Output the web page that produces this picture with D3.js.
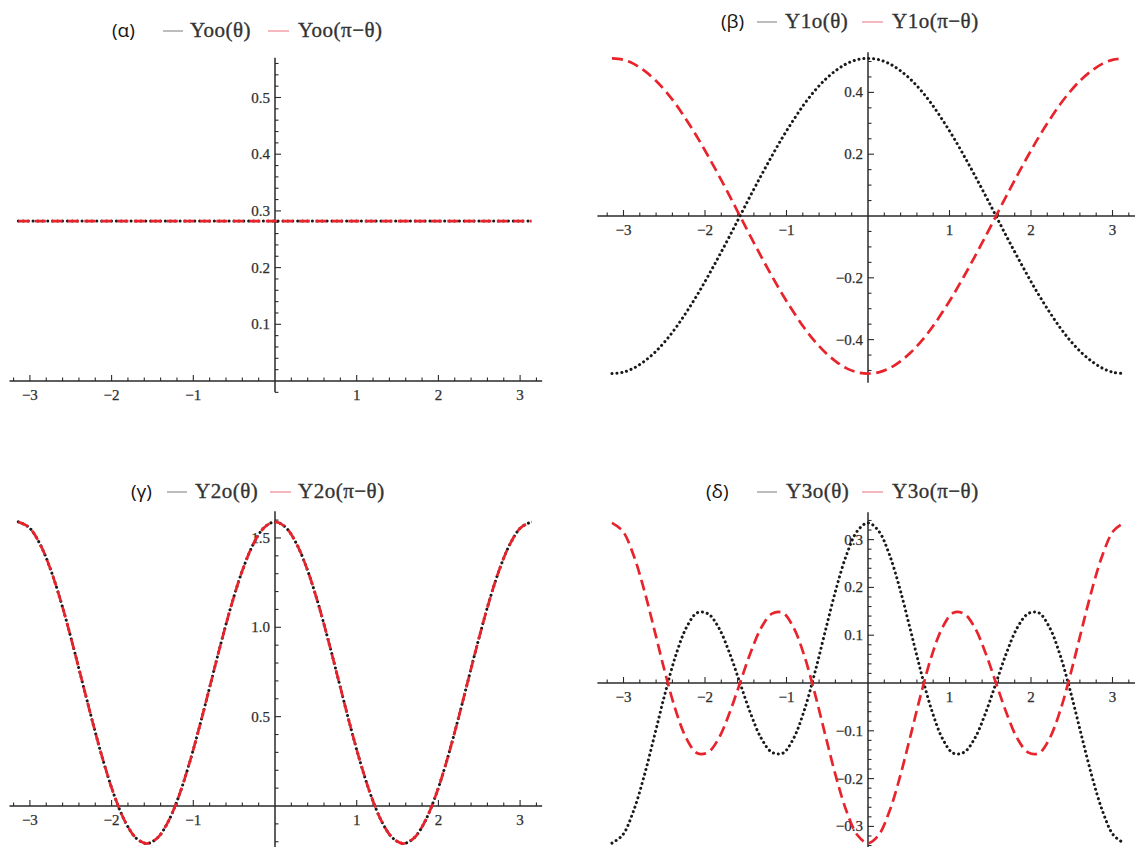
<!DOCTYPE html>
<html><head><meta charset="utf-8">
<script src="https://cdn.jsdelivr.net/npm/d3@7/dist/d3.min.js"></script>
<style>
html,body{margin:0;padding:0;background:#fff;}
svg{display:block;}
</style></head>
<body>
<svg id="chart" width="1135" height="847"></svg>
<script>
// ---- data (θ sampled every π/24 from -π to π) ----
const theta = [-3.1416,-3.0107,-2.8798,-2.7489,-2.6180,-2.4871,-2.3562,-2.2253,-2.0944,-1.9635,-1.8326,-1.7017,
               -1.5708,-1.4399,-1.3090,-1.1781,-1.0472,-0.9163,-0.7854,-0.6545,-0.5236,-0.3927,-0.2618,-0.1309,
               0,0.1309,0.2618,0.3927,0.5236,0.6545,0.7854,0.9163,1.0472,1.1781,1.3090,1.4399,
               1.5708,1.7017,1.8326,1.9635,2.0944,2.2253,2.3562,2.4871,2.6180,2.7489,2.8798,3.0107,3.1416];

const y00 = [0.282,0.282,0.282,0.282,0.282,0.282,0.282,0.282,0.282,0.282,0.282,0.282,
             0.282,0.282,0.282,0.282,0.282,0.282,0.282,0.282,0.282,0.282,0.282,0.282,
             0.282,0.282,0.282,0.282,0.282,0.282,0.282,0.282,0.282,0.282,0.282,0.282,
             0.282,0.282,0.282,0.282,0.282,0.282,0.282,0.282,0.282,0.282,0.282,0.282,0.282];
const y00r = [0.282,0.282,0.282,0.282,0.282,0.282,0.282,0.282,0.282,0.282,0.282,0.282,
              0.282,0.282,0.282,0.282,0.282,0.282,0.282,0.282,0.282,0.282,0.282,0.282,
              0.282,0.282,0.282,0.282,0.282,0.282,0.282,0.282,0.282,0.282,0.282,0.282,
              0.282,0.282,0.282,0.282,0.282,0.282,0.282,0.282,0.282,0.282,0.282,0.282,0.282];

const y10 = [-0.510,-0.506,-0.493,-0.471,-0.442,-0.405,-0.361,-0.310,-0.255,-0.195,-0.132,-0.067,
             0,0.067,0.132,0.195,0.255,0.310,0.361,0.405,0.442,0.471,0.493,0.506,
             0.510,0.506,0.493,0.471,0.442,0.405,0.361,0.310,0.255,0.195,0.132,0.067,
             0,-0.067,-0.132,-0.195,-0.255,-0.310,-0.361,-0.405,-0.442,-0.471,-0.493,-0.506,-0.510];
const y10r = [0.510,0.506,0.493,0.471,0.442,0.405,0.361,0.310,0.255,0.195,0.132,0.067,
              0,-0.067,-0.132,-0.195,-0.255,-0.310,-0.361,-0.405,-0.442,-0.471,-0.493,-0.506,
              -0.510,-0.506,-0.493,-0.471,-0.442,-0.405,-0.361,-0.310,-0.255,-0.195,-0.132,-0.067,
              0,0.067,0.132,0.195,0.255,0.310,0.361,0.405,0.442,0.471,0.493,0.506,0.510];

const y20 = [1.590,1.559,1.469,1.326,1.140,0.923,0.690,0.457,0.240,0.054,-0.089,-0.179,
             -0.210,-0.179,-0.089,0.054,0.240,0.457,0.690,0.923,1.140,1.326,1.469,1.559,
             1.590,1.559,1.469,1.326,1.140,0.923,0.690,0.457,0.240,0.054,-0.089,-0.179,
             -0.210,-0.179,-0.089,0.054,0.240,0.457,0.690,0.923,1.140,1.326,1.469,1.559,1.590];
const y20r = [1.590,1.559,1.469,1.326,1.140,0.923,0.690,0.457,0.240,0.054,-0.089,-0.179,
              -0.210,-0.179,-0.089,0.054,0.240,0.457,0.690,0.923,1.140,1.326,1.469,1.559,
              1.590,1.559,1.469,1.326,1.140,0.923,0.690,0.457,0.240,0.054,-0.089,-0.179,
              -0.210,-0.179,-0.089,0.054,0.240,0.457,0.690,0.923,1.140,1.326,1.469,1.559,1.590];

const y30 = [-0.335,-0.318,-0.269,-0.196,-0.109,-0.020,0.059,0.117,0.147,0.145,0.116,0.064,
             0,-0.064,-0.116,-0.145,-0.147,-0.117,-0.059,0.020,0.109,0.196,0.269,0.318,
             0.335,0.318,0.269,0.196,0.109,0.020,-0.059,-0.117,-0.147,-0.145,-0.116,-0.064,
             0,0.064,0.116,0.145,0.147,0.117,0.059,-0.020,-0.109,-0.196,-0.269,-0.318,-0.335];
const y30r = [0.335,0.318,0.269,0.196,0.109,0.020,-0.059,-0.117,-0.147,-0.145,-0.116,-0.064,
              0,0.064,0.116,0.145,0.147,0.117,0.059,-0.020,-0.109,-0.196,-0.269,-0.318,
              -0.335,-0.318,-0.269,-0.196,-0.109,-0.020,0.059,0.117,0.147,0.145,0.116,0.064,
              0,-0.064,-0.116,-0.145,-0.147,-0.117,-0.059,0.020,0.109,0.196,0.269,0.318,0.335];

const xTicks = [-3,-2,-1,1,2,3];
const yTicksA = [0.1,0.2,0.3,0.4,0.5];
const yTicksB = [-0.4,-0.2,0.2,0.4];
const yTicksG = [0.5,1.0,1.5];
const yTicksD = [-0.3,-0.2,-0.1,0.1,0.2,0.3];

const panelLabels = ["(α)","(β)","(γ)","(δ)"];
const seriesNames = [["Yoo(θ)","Yoo(π−θ)"],["Y1o(θ)","Y1o(π−θ)"],["Y2o(θ)","Y2o(π−θ)"],["Y3o(θ)","Y3o(π−θ)"]];

// ---- layout ----
const svg = d3.select("#chart");
const panels = [
  {x0:275, ux:81.7, y0:381, uy:567, xd:[-3.25,3.27], yd:[-0.02,0.57], ticks:yTicksA, ymin:0.02,
   data:[y00,y00r], label:panelLabels[0], names:seriesNames[0], leg:{lx:112, ly:30, l1:163, t1:190, l2:268, t2:298}},
  {x0:868, ux:81.5, y0:216, uy:309, xd:[-3.32,3.3], yd:[-0.54,0.53], ticks:yTicksB, ymin:0.05,
   data:[y10,y10r], label:panelLabels[1], names:seriesNames[1], leg:{lx:721, ly:21, l1:757, t1:785, l2:862, t2:892}},
  {x0:275, ux:81.7, y0:806, uy:178.7, xd:[-3.25,3.27], yd:[-0.24,1.65], ticks:yTicksG, ymin:0.1,
   data:[y20,y20r], label:panelLabels[2], names:seriesNames[2], leg:{lx:131, ly:491, l1:167, t1:195, l2:270, t2:298}},
  {x0:868, ux:81.5, y0:683, uy:478, xd:[-3.32,3.3], yd:[-0.345,0.357], ticks:yTicksD, ymin:0.02,
   data:[y30,y30r], label:panelLabels[3], names:seriesNames[3], leg:{lx:706, ly:491, l1:757, t1:786, l2:862, t2:892}}
];

const axisColor = "#2a2a2a";
const labelColor = "#2e2e2e";
const serif = "'Liberation Serif','Times New Roman','DejaVu Serif',serif";
const fmt = d3.format(".1f");

panels.forEach(p => {
  const x = d3.scaleLinear().domain([-1,1]).range([p.x0 - p.ux, p.x0 + p.ux]);
  const y = d3.scaleLinear().domain([-1,1]).range([p.y0 + p.uy, p.y0 - p.uy]);
  const g = svg.append("g");

  // axes lines
  g.append("line").attr("x1", x(p.xd[0])).attr("x2", x(p.xd[1])).attr("y1", y(0)).attr("y2", y(0))
    .attr("stroke", axisColor).attr("stroke-width", 1.5);
  g.append("line").attr("x1", x(0)).attr("x2", x(0)).attr("y1", Math.min(847, y(p.yd[0]))).attr("y2", y(p.yd[1]))
    .attr("stroke", axisColor).attr("stroke-width", 1.5);

  // x ticks (minor every 0.2, pointing up)
  const xMinor = d3.range(-16, 17).map(i => i * 0.2).filter(v => Math.abs(v) > 1e-6 && v >= p.xd[0] && v <= p.xd[1]);
  g.selectAll(null).data(xMinor).join("line")
    .attr("x1", d => x(d)).attr("x2", d => x(d))
    .attr("y1", y(0)).attr("y2", d => y(0) - (Math.abs(d - Math.round(d)) < 1e-6 ? 6 : 3.5))
    .attr("stroke", axisColor).attr("stroke-width", 1.1);
  g.selectAll(null).data(xTicks).join("text")
    .attr("x", d => x(d)).attr("y", y(0) + 19)
    .attr("text-anchor", "middle").style("font-family", serif).style("font-size", "15px")
    .attr("fill", labelColor).attr("stroke", labelColor).attr("stroke-width", 0.25)
    .text(d => d < 0 ? "−" + Math.abs(d) : d);

  // y ticks (pointing right)
  const n0 = Math.ceil(p.yd[0] / p.ymin - 1e-6), n1 = Math.floor(p.yd[1] / p.ymin + 1e-6);
  const yMinor = d3.range(n0, n1 + 1).map(i => i * p.ymin).filter(v => Math.abs(v) > 1e-6 && y(v) < 847);
  const isMajor = v => p.ticks.some(t => Math.abs(t - v) < 1e-6);
  g.selectAll(null).data(yMinor).join("line")
    .attr("x1", x(0)).attr("x2", d => x(0) + (isMajor(d) ? 6 : 3.5))
    .attr("y1", d => y(d)).attr("y2", d => y(d))
    .attr("stroke", axisColor).attr("stroke-width", 1.1);
  g.selectAll(null).data(p.ticks).join("text")
    .attr("x", x(0) - 5).attr("y", d => y(d) + 5)
    .attr("text-anchor", "end").style("font-family", serif).style("font-size", "15px")
    .attr("fill", labelColor).attr("stroke", labelColor).attr("stroke-width", 0.25)
    .text(d => (d < 0 ? "−" : "") + fmt(Math.abs(d)));

  // curves
  const line = d3.line().x((d, i) => x(theta[i])).y(d => y(d)).curve(d3.curveCatmullRom.alpha(0.5));
  g.append("path").datum(p.data[0]).attr("d", line)
    .attr("fill", "none").attr("stroke", "#1a1a1a").attr("stroke-width", 3)
    .attr("stroke-linecap", "round").attr("stroke-dasharray", "0.1 4.8");
  g.append("path").datum(p.data[1]).attr("d", line)
    .attr("fill", "none").attr("stroke", "#e8232b").attr("stroke-width", 2.7)
    .attr("stroke-dasharray", "11 5.5");

  // legend
  const L = p.leg;
  g.append("text").attr("x", L.lx).attr("y", L.ly + 7)
    .style("font-family", "'Open Sans','Noto Sans',sans-serif").style("font-size", "19px").attr("fill", "#111")
    .text(p.label);
  g.append("line").attr("x1", L.l1).attr("x2", L.l1 + 20).attr("y1", L.ly + 1).attr("y2", L.ly + 1)
    .attr("stroke", "#9a9a9a").attr("stroke-width", 1.3);
  g.append("text").attr("x", L.t1).attr("y", L.ly + 7)
    .style("font-family", serif).style("font-size", "21px").attr("fill", "#333")
    .attr("stroke", "#333").attr("stroke-width", 0.35).attr("letter-spacing", 0.5)
    .text(p.names[0]);
  g.append("line").attr("x1", L.l2).attr("x2", L.l2 + 21).attr("y1", L.ly + 1).attr("y2", L.ly + 1)
    .attr("stroke", "#f2a0a8").attr("stroke-width", 1.5);
  g.append("text").attr("x", L.t2).attr("y", L.ly + 7)
    .style("font-family", serif).style("font-size", "21px").attr("fill", "#333")
    .attr("stroke", "#333").attr("stroke-width", 0.35).attr("letter-spacing", 0.5)
    .text(p.names[1]);
});
</script>
</body></html>
